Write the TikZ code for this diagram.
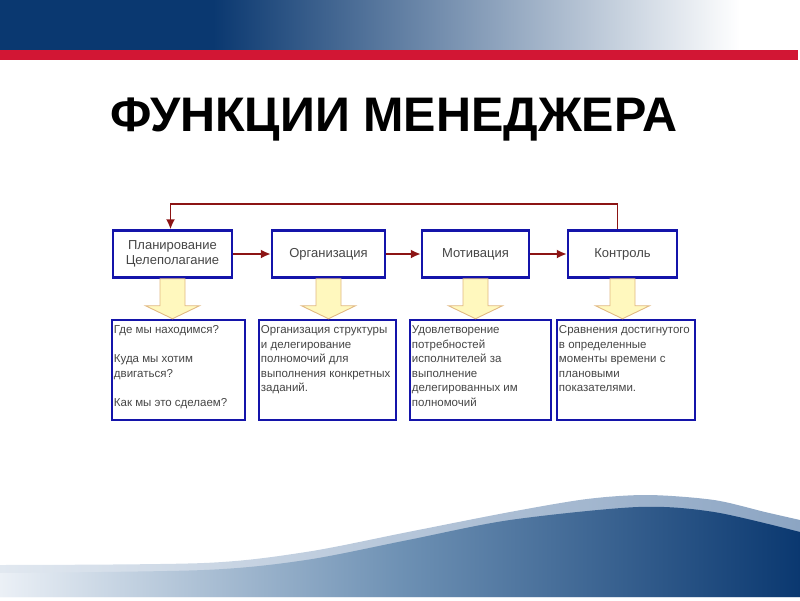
\documentclass[tikz,border=0pt]{standalone}
\usepackage{fontspec}
\setmainfont{Liberation Sans}
\usetikzlibrary{arrows.meta,positioning}
\definecolor{navy}{RGB}{10,56,112}
\definecolor{stripe}{RGB}{210,22,52}
\definecolor{boxblue}{RGB}{20,20,170}
\definecolor{linkred}{RGB}{140,20,20}
\definecolor{pale}{RGB}{255,248,190}
\definecolor{paleedge}{RGB}{225,185,130}
\definecolor{txt}{RGB}{70,70,70}
\tikzset{
  fn/.style={draw=boxblue, line width=2.5pt, fill=white, text=txt, align=center,
    font=\fontsize{13}{15}\selectfont, inner sep=0pt, minimum height=47pt},
  task/.style={draw=boxblue, line width=2.5pt, fill=white, minimum height=100pt, inner sep=0pt},
  tasktext/.style={anchor=north west, text=txt, align=left, inner sep=0pt,
    font=\fontsize{11.5}{14.5}\selectfont},
  link/.style={->, linkred, line width=1.7pt},
  blk/.style={fill=pale, draw=paleedge, line width=0.9pt}
}
\begin{document}
\begin{tikzpicture}[x=1pt, y=-1pt, >={Latex[length=10pt,width=9pt]}]
  \useasboundingbox (0,0) rectangle (800,600);
  % header band
  \fill[navy] (0,0) rectangle (214,50);
  \shade[left color=navy, right color=white] (213,0) rectangle (740,50);
  \fill[stripe] (0,50) rectangle (798,60);
  % bottom wave
  \shade[left color={rgb,255:red,225;green,232;blue,240}, right color={rgb,255:red,140;green,165;blue,195}]
    plot[smooth] coordinates {(0,565) (204,563) (306,552) (408,532) (510,512) (587,499) (648,495) (714,500) (765,512) (800,520)}
    -- (800,597) -- (0,597) -- cycle;
  \shade[left color={rgb,255:red,235;green,240;blue,246}, right color=navy, middle color={rgb,255:red,110;green,145;blue,180}]
    plot[smooth] coordinates {(0,573) (204,570) (306,560) (408,540) (510,520) (638,507) (714,512) (800,532)}
    -- (800,597) -- (0,597) -- cycle;

  \node[font=\fontsize{48.5}{52}\selectfont\bfseries, anchor=base, inner sep=0pt] (title) at (394,131) {ФУНКЦИИ МЕНЕДЖЕРА};

  \node[fn, minimum width=119pt] (f1) at (172.5,254) {Планирование\\Целеполагание};
  \node[fn, minimum width=113pt] (f2) at (328.5,254) {Организация};
  \node[fn, minimum width=107pt] (f3) at (475.5,254) {Мотивация};
  \node[fn, minimum width=109pt] (f4) at (622.5,254) {Контроль};

  \draw[link] (f1) -- (f2);
  \draw[link] (f2) -- (f3);
  \draw[link] (f3) -- (f4);
  \draw[link] ([xshift=-5pt]f4.north) -- ++(0,25pt) -| ([xshift=-2pt]f1.north);

  \node[task, minimum width=133pt] (t1) at (178.5,370) {};
  \node[task, minimum width=137pt] (t2) at (327.5,370) {};
  \node[task, minimum width=141pt] (t3) at (480.5,370) {};
  \node[task, minimum width=138pt] (t4) at (626,370) {};

  \foreach \i in {1,...,4}
    \draw[blk] ([xshift=-12.5pt]f\i.south)
      -- ([xshift=-12.5pt,yshift=13pt]f\i.south |- t\i.north)
      -- ([xshift=-27pt,yshift=13pt]f\i.south |- t\i.north)
      -- (f\i.south |- t\i.north)
      -- ([xshift=27pt,yshift=13pt]f\i.south |- t\i.north)
      -- ([xshift=12.5pt,yshift=13pt]f\i.south |- t\i.north)
      -- ([xshift=12.5pt]f\i.south) -- cycle;

  \node[tasktext] (x1) at ([shift={(3pt,-7pt)}]t1.north west) {Где мы находимся?\\[14.5pt]Куда мы хотим\\двигаться?\\[14.5pt]Как мы это сделаем?};
  \node[tasktext] (x2) at ([shift={(3pt,-7pt)}]t2.north west) {Организация структуры\\и делегирование\\полномочий для\\выполнения конкретных\\заданий.};
  \node[tasktext] (x3) at ([shift={(3pt,-7pt)}]t3.north west) {Удовлетворение\\потребностей\\исполнителей за\\выполнение\\делегированных им\\полномочий};
  \node[tasktext] (x4) at ([shift={(3pt,-7pt)}]t4.north west) {Сравнения достигнутого\\в определенные\\моменты времени с\\плановыми\\показателями.};
\end{tikzpicture}
\end{document}
